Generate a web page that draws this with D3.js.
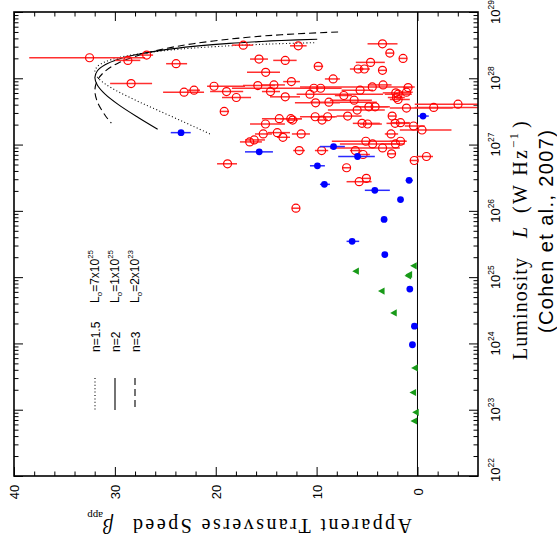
<!DOCTYPE html>
<html>
<head>
<meta charset="utf-8">
<script src="https://cdn.jsdelivr.net/npm/d3@7"></script>
<style>
body { margin: 0; background: #fff; }
svg { display: block; }
.sans { font-family: "Liberation Sans", Arial, Helvetica, sans-serif; }
.serif { font-family: "Liberation Serif", "Times New Roman", serif; }
</style>
</head>
<body>
<script>
// red: superluminal sources (beta_app, log L, error bar ends in beta)
var redBeta = [32.51,28.71,26.85,23.93,28.39,23.14,22.15,20.17,18.93,17.96,19.16,17.27,15.71,15.05,15.83,14.23,14.57,15.07,15.29,13.90,16.63,16.19,18.83,
	3.47,2.74,1.43,11.82,13.11,9.84,4.65,5.88,5.27,3.47,8.36,12.50,10.27,9.60,5.69,4.48,3.41,0.93,2.15,1.92,1.09,10.66,7.30,13.11,2.08,1.92,6.28,10.10,8.78,4.82,4.20,5.98,1.09,-1.61,-4.02,2.51,13.70,12.56,12.38,10.14,8.91,9.46,6.92,5.50,4.95,2.22,1.68,0.39,-0.45,
	13.34,11.53,2.62,5.12,4.45,3.46,2.18,1.68,6.16,5.39,11.72,9.50,2.57,-0.89,0.32,7.03,5.07,5.78,12.05];
var redLogL = [28.31,28.27,28.35,28.22,27.92,27.79,27.82,27.88,27.80,27.71,27.50,28.50,28.29,28.09,27.89,27.90,27.80,27.31,27.16,27.18,27.04,27.07,26.71,
	28.52,28.38,28.30,28.49,28.27,28.18,28.24,28.14,28.14,28.12,27.99,27.95,27.85,27.85,27.82,27.87,27.90,27.86,27.78,27.76,27.79,27.76,27.74,27.72,27.71,27.68,27.67,27.63,27.64,27.57,27.57,27.52,27.55,27.56,27.61,27.43,27.39,27.39,27.37,27.42,27.42,27.37,27.43,27.32,27.31,27.32,27.33,27.28,27.22,
	27.11,27.16,27.16,27.05,27.01,26.95,27.01,27.05,26.91,26.85,26.91,26.91,26.86,26.82,26.76,26.65,26.49,26.44,26.04];
var redBarHi = [38.49,29.97,27.48,24.92,30.47,25.22,22.74,20.86,20.56,19.38,19.57,18.39,16.60,16.90,17.30,15.42,15.42,16.60,16.11,14.82,17.60,17.10,19.87,
	4.95,3.04,1.76,12.64,14.30,10.24,6.11,6.70,5.91,3.83,9.18,13.31,18.39,11.16,7.52,11.65,4.92,1.43,3.44,3.24,1.95,11.98,8.19,14.62,2.94,2.74,8.68,12.15,10.66,6.21,5.71,8.88,2.74,0.27,0.27,2.84,15.42,13.63,12.94,11.65,10.66,9.97,8.02,6.41,5.71,3.07,2.54,1.26,1.75,
	13.93,12.45,3.24,8.49,7.69,8.68,3.24,2.74,6.70,6.21,12.32,10.17,2.94,0.10,0.76,7.40,5.51,7.03,12.25];
var redBarLo = [27.00,27.48,26.21,22.84,26.31,21.16,21.56,17.10,17.28,16.50,18.68,16.30,14.82,13.63,14.13,13.14,13.63,13.14,14.43,12.64,15.42,15.12,17.89,
	1.98,2.45,1.06,10.99,11.98,9.35,3.24,5.32,4.72,3.14,7.69,11.65,8.68,7.52,4.40,0.27,2.57,0.59,0.76,0.56,0.47,3.41,6.50,11.65,1.26,0.76,4.52,7.69,4.03,2.94,2.74,3.24,-3.50,-5.97,-6.00,2.15,11.46,11.46,11.85,8.19,7.99,8.88,5.54,3.73,3.53,0.76,0.76,-0.72,-3.37,
	12.64,10.66,1.92,1.16,1.75,1.75,1.26,1.06,5.51,4.72,11.16,8.85,2.25,-1.54,-0.03,6.70,4.62,4.55,11.85];

// blue: filled points
var blueBeta = [23.44,15.69,8.32,5.94,9.92,9.23,4.23,0.83,-0.55,1.68,3.31,6.48,3.24,0.76,0.30,0.50];
var blueLogL = [27.18,26.89,26.97,26.82,26.68,26.40,26.31,26.46,27.43,26.17,25.87,25.54,25.34,24.82,24.26,23.98];
var blueBarHi = [24.46,17.10,9.67,7.86,10.66,9.67,5.22,1.16,-0.03,1.68,3.31,7.03,3.24,0.76,0.30,0.50];
var blueBarLo = [22.48,14.33,7.20,4.23,9.18,8.68,2.74,0.47,-1.12,1.68,3.31,5.78,3.24,0.76,0.30,0.50];

// green: limits (left-pointing triangles)
var greenBeta = [6.11,0.37,0.93,0.83,3.56,2.35,0.27,0.44,0.17,0.34];
var greenLogL = [25.09,25.17,25.02,25.04,24.79,24.46,23.63,23.26,22.96,22.83];

// model curves (beta_app, log L)
var curveN15Beta = [10.24,13.49,15.46,18.63,22.23,24.96,27.69,29.65,30.97,31.73,31.98,31.73,30.97,29.65,27.69,25.73,23.22,21.14,20.53];
var curveN15LogL = [28.537,28.523,28.512,28.490,28.456,28.419,28.367,28.310,28.248,28.179,28.103,28.016,27.915,27.797,27.651,27.516,27.345,27.200,27.155];
var curveN2Beta = [9.94,13.49,15.46,18.63,22.23,24.96,27.69,29.65,30.97,31.73,31.98,31.73,30.97,29.65,27.69,25.76];
var curveN2LogL = [28.590,28.571,28.556,28.527,28.481,28.432,28.362,28.287,28.204,28.113,28.010,27.894,27.760,27.602,27.408,27.231];
var curveN3Beta = [7.87,11.09,13.49,15.46,18.63,22.23,24.96,27.69,29.65,30.97,31.73,31.98,31.73,30.97,30.35];
var curveN3LogL = [28.699,28.678,28.657,28.636,28.591,28.522,28.449,28.345,28.232,28.107,27.970,27.816,27.643,27.442,27.322];

var xMajor = [40, 30, 20, 10, 0];
var yExponents = [22, 23, 24, 25, 26, 27, 28, 29];

var width = 557, height = 542,
frame = {left: 14, right: 478, top: 12, bottom: 476};

var xSc = d3.scaleLinear().domain([40, -6]).range([frame.left, frame.right]),
ySc = d3.scaleLog().domain([1e22, 1e29]).range([frame.bottom, frame.top]);

function yL(v) { return ySc(Math.pow(10, v)); }

var svg = d3.select("body").append("svg")
	.attr("width", width).attr("height", height);

svg.append("defs").append("clipPath").attr("id", "plot-clip")
	.append("rect")
	.attr("x", frame.left).attr("y", frame.top)
	.attr("width", frame.right - frame.left)
	.attr("height", frame.bottom - frame.top);

// ticks
var xMinor = d3.range(-4, 40, 2).filter(function(v) { return v % 10 !== 0; });
var yMajor = yExponents.map(function(e) { return Math.pow(10, e); });
var yMinor = [];
yExponents.slice(0, -1).forEach(function(e) {
	for (var m = 2; m < 10; m++) yMinor.push(m * Math.pow(10, e));
});

function addAxis(axis, tr) {
	var g = svg.append("g").attr("transform", tr).call(axis);
	g.select(".domain").remove();
	g.selectAll("line").attr("stroke", "#000").attr("stroke-width", 1);
}

addAxis(d3.axisBottom(xSc).tickValues(xMajor).tickSize(-9).tickFormat(""), "translate(0," + frame.bottom + ")");
addAxis(d3.axisBottom(xSc).tickValues(xMinor).tickSize(-4.5).tickFormat(""), "translate(0," + frame.bottom + ")");
addAxis(d3.axisTop(xSc).tickValues(xMajor).tickSize(-9).tickFormat(""), "translate(0," + frame.top + ")");
addAxis(d3.axisTop(xSc).tickValues(xMinor).tickSize(-4.5).tickFormat(""), "translate(0," + frame.top + ")");
addAxis(d3.axisRight(ySc).tickValues(yMajor).tickSize(-9).tickFormat(""), "translate(" + frame.right + ",0)");
addAxis(d3.axisRight(ySc).tickValues(yMinor).tickSize(-4.5).tickFormat(""), "translate(" + frame.right + ",0)");
addAxis(d3.axisLeft(ySc).tickValues(yMajor).tickSize(-9).tickFormat(""), "translate(" + frame.left + ",0)");
addAxis(d3.axisLeft(ySc).tickValues(yMinor).tickSize(-4.5).tickFormat(""), "translate(" + frame.left + ",0)");

// zero line
svg.append("line")
	.attr("x1", xSc(0)).attr("x2", xSc(0))
	.attr("y1", frame.top).attr("y2", frame.bottom)
	.attr("stroke", "#000").attr("stroke-width", 1);

var plot = svg.append("g").attr("clip-path", "url(#plot-clip)");

// model curves
var line = d3.line()
	.x(function(d) { return xSc(d[0]); })
	.y(function(d) { return yL(d[1]); })
	.curve(d3.curveCatmullRom);

function zip(a, b) { return a.map(function(v, i) { return [v, b[i]]; }); }

var curves = [
	{pts: zip(curveN15Beta, curveN15LogL), dash: "1,2.4"},
	{pts: zip(curveN2Beta, curveN2LogL), dash: null},
	{pts: zip(curveN3Beta, curveN3LogL), dash: "7,4"}
];
curves.forEach(function(c) {
	plot.append("path")
		.attr("d", line(c.pts))
		.attr("fill", "none")
		.attr("stroke", "#000")
		.attr("stroke-width", 1.1)
		.attr("stroke-dasharray", c.dash);
});

// red error bars + open circles
var red = redBeta.map(function(b, i) {
	return {b: b, l: redLogL[i], hi: redBarHi[i], lo: redBarLo[i]};
});
var rr = 4;
plot.append("g").selectAll("line").data(red).enter().append("line")
	.attr("x1", function(d) { return Math.min(xSc(d.hi), xSc(d.b) - rr); })
	.attr("x2", function(d) { return Math.max(xSc(d.lo), xSc(d.b) + rr); })
	.attr("y1", function(d) { return yL(d.l); })
	.attr("y2", function(d) { return yL(d.l); })
	.attr("stroke", "#ff3030")
	.attr("stroke-width", 1.5);
plot.append("g").selectAll("circle").data(red).enter().append("circle")
	.attr("cx", function(d) { return xSc(d.b); })
	.attr("cy", function(d) { return yL(d.l); })
	.attr("r", rr)
	.attr("fill", "none")
	.attr("stroke", "#ff0000")
	.attr("stroke-width", 1.2);

// blue points
var blue = blueBeta.map(function(b, i) {
	return {b: b, l: blueLogL[i], hi: blueBarHi[i], lo: blueBarLo[i]};
});
plot.append("g").selectAll("line").data(blue).enter().append("line")
	.attr("x1", function(d) { return xSc(d.hi); })
	.attr("x2", function(d) { return xSc(d.lo); })
	.attr("y1", function(d) { return yL(d.l); })
	.attr("y2", function(d) { return yL(d.l); })
	.attr("stroke", "#2a2aff")
	.attr("stroke-width", 1.5);
plot.append("g").selectAll("circle").data(blue).enter().append("circle")
	.attr("cx", function(d) { return xSc(d.b); })
	.attr("cy", function(d) { return yL(d.l); })
	.attr("r", 3.4)
	.attr("fill", "#0000ff");

// green triangles
plot.append("g").selectAll("path").data(greenBeta).enter().append("path")
	.attr("transform", function(d, i) { return "translate(" + xSc(d) + "," + yL(greenLogL[i]) + ")"; })
	.attr("d", "M-3.6,0L3,-3.6L3,3.6Z")
	.attr("fill", "#189a18");

// frame
svg.append("rect")
	.attr("x", frame.left).attr("y", frame.top)
	.attr("width", frame.right - frame.left)
	.attr("height", frame.bottom - frame.top)
	.attr("fill", "none")
	.attr("stroke", "#000")
	.attr("stroke-width", 1.6);

// bottom tick labels (rotated)
svg.append("g").selectAll("text").data(xMajor).enter().append("text")
	.attr("class", "sans")
	.attr("transform", function(d) { return "translate(" + (xSc(d) + 0.5) + ",492) rotate(-90)"; })
	.attr("text-anchor", "middle")
	.attr("dy", "0.36em")
	.attr("font-size", "13px")
	.text(function(d) { return d; });

// right tick labels 10^n
var ylab = svg.append("g").selectAll("text").data(yExponents).enter().append("text")
	.attr("class", "sans")
	.attr("transform", function(d) {
		var yy = ySc(Math.pow(10, d)) + (d === 22 ? -6 : 0);
		return "translate(500," + yy + ") rotate(-90)";
	})
	.attr("text-anchor", "middle")
	.attr("font-size", "13px");
ylab.append("tspan").text("10");
ylab.append("tspan").attr("dy", -6).attr("font-size", "8.5px").text(function(d) { return d; });

// right axis title
svg.append("text").attr("class", "serif")
	.attr("transform", "translate(527,360) rotate(-90)")
	.attr("font-size", "20px")
	.attr("textLength", 102).attr("lengthAdjust", "spacing")
	.text("Luminosity");
svg.append("text").attr("class", "serif")
	.attr("transform", "translate(527,238) rotate(-90)")
	.attr("font-size", "20px").attr("font-style", "italic")
	.text("L");
svg.append("text").attr("class", "serif")
	.attr("transform", "translate(527,213) rotate(-90)")
	.attr("font-size", "20px")
	.attr("textLength", 63).attr("lengthAdjust", "spacing")
	.text("(W Hz");
svg.append("text").attr("class", "serif")
	.attr("transform", "translate(518,148) rotate(-90)")
	.attr("font-size", "13px")
	.attr("textLength", 15).attr("lengthAdjust", "spacing")
	.text("\u22121");
svg.append("text").attr("class", "serif")
	.attr("transform", "translate(527,128) rotate(-90)")
	.attr("font-size", "20px")
	.text(")");
svg.append("text").attr("class", "sans")
	.attr("transform", "translate(553,333) rotate(-90)")
	.attr("font-size", "20px")
	.attr("textLength", 203).attr("lengthAdjust", "spacing")
	.text("(Cohen et al., 2007)");

// bottom axis title (upside down)
svg.append("text").attr("class", "serif")
	.attr("transform", "translate(412,519) rotate(180)")
	.attr("font-size", "20px")
	.attr("textLength", 279).attr("lengthAdjust", "spacing")
	.text("Apparent Transverse Speed");
var beta = svg.append("text").attr("class", "serif")
	.attr("transform", "translate(113,519) rotate(180)")
	.attr("font-size", "20px").attr("font-style", "italic");
beta.append("tspan").text("\u03b2");
beta.append("tspan").attr("dy", 7).attr("font-size", "11px").attr("font-style", "normal").text("app");

// legend
var legN = ["n=1.5", "n=2", "n=3"],
legL0 = [["7", "25"], ["1", "25"], ["2", "23"]],
legDash = ["1,2.4", null, "7,4"],
legX = [95, 115, 135];

legX.forEach(function(lx, i) {
	svg.append("line")
		.attr("x1", lx).attr("x2", lx)
		.attr("y1", 378).attr("y2", 410)
		.attr("stroke", "#000").attr("stroke-width", 1.1)
		.attr("stroke-dasharray", legDash[i]);
	svg.append("text").attr("class", "sans")
		.attr("transform", "translate(" + (lx + 5) + ",352) rotate(-90)")
		.attr("font-size", "12px")
		.text(legN[i]);
	var t = svg.append("text").attr("class", "sans")
		.attr("transform", "translate(" + (lx + 4) + ",303) rotate(-90)")
		.attr("font-size", "12px");
	t.append("tspan").text("L");
	t.append("tspan").attr("dy", 3).attr("font-size", "8px").text("o");
	t.append("tspan").attr("dy", -3).text("=" + legL0[i][0] + "x10");
	t.append("tspan").attr("dy", -6).attr("font-size", "8px").text(legL0[i][1]);
});
</script>
</body>
</html>
